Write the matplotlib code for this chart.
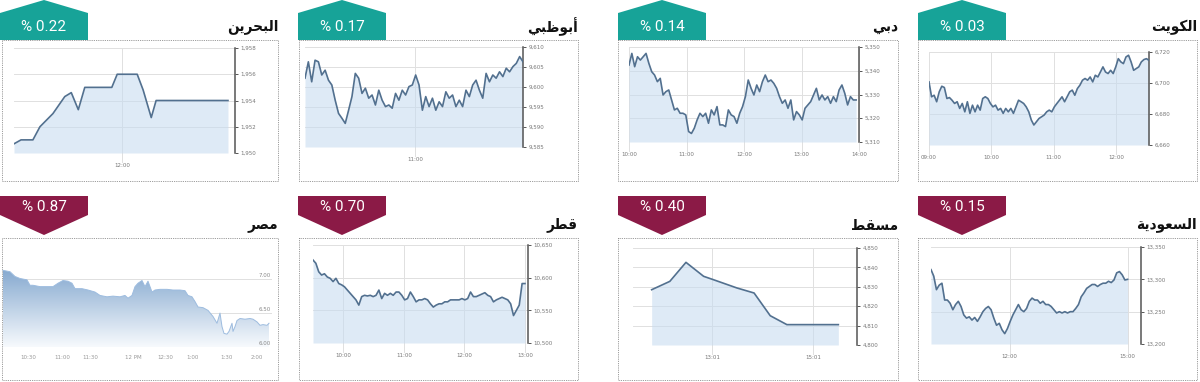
import numpy as np
import matplotlib
matplotlib.use('Agg')
import matplotlib.pyplot as plt
from matplotlib.patches import Polygon, Rectangle
from matplotlib.colors import LinearSegmentedColormap


# Data
# --------------
markets = ['البحرين', 'أبوظبي', 'دبي', 'الكويت', 'مصر', 'قطر', 'مسقط', 'السعودية']
changes = [0.22, 0.17, 0.14, 0.03, 0.87, 0.70, 0.40, 0.15]
rising = [True, True, True, True, False, False, False, False]

bahrain_t = [10.0, 10.13, 10.35, 10.48, 10.72, 10.94, 11.06, 11.19, 11.31, 11.81, 11.91, 12.28, 12.39, 12.54, 12.63, 13.96]
bahrain_v = [1950.7, 1951.0, 1951.0, 1952.0, 1953.0, 1954.3, 1954.6, 1953.3, 1955.0, 1955.0, 1956.0, 1956.0, 1954.8, 1952.7, 1954.0, 1954.0]

abudhabi_v = [9602.2, 9606.3, 9601.3, 9606.7, 9606.3, 9603.0, 9604.2, 9601.7, 9600.5, 9596.7, 9593.4, 9592.2, 9590.9,
              9594.2, 9597.6, 9603.4, 9602.2, 9598.4, 9599.7, 9597.2, 9598.0, 9595.5, 9599.2, 9596.7, 9595.1, 9595.5,
              9594.7, 9598.4, 9596.7, 9599.2, 9598.0, 9600.1, 9600.5, 9603.0, 9600.5, 9594.2, 9597.6, 9595.1, 9597.2,
              9594.2, 9596.3, 9595.1, 9598.8, 9597.2, 9598.0, 9595.1, 9596.7, 9595.1, 9599.2, 9597.6, 9600.5, 9601.7,
              9599.2, 9597.2, 9603.4, 9601.3, 9603.0, 9602.2, 9603.8, 9602.6, 9604.7, 9603.8, 9605.1, 9605.9, 9607.6, 9606.3]

dubai_v = [5342.4, 5347.3, 5341.7, 5345.9, 5344.5, 5345.9, 5347.3, 5343.1, 5339.6, 5338.2, 5335.4, 5336.8, 5329.8,
           5331.2, 5331.9, 5327.7, 5323.5, 5324.2, 5322.1, 5322.1, 5321.4, 5314.4, 5313.6, 5315.8, 5319.3, 5322.1,
           5320.7, 5322.1, 5317.9, 5323.5, 5321.4, 5324.9, 5317.2, 5317.2, 5316.5, 5323.5, 5321.4, 5320.7, 5317.9,
           5322.1, 5324.9, 5329.1, 5336.1, 5332.6, 5329.8, 5334.0, 5331.2, 5335.4, 5338.2, 5335.4, 5336.1, 5334.7,
           5332.6, 5329.1, 5326.3, 5327.7, 5324.2, 5327.7, 5319.3, 5322.8, 5321.4, 5319.3, 5324.2, 5325.6, 5327.0,
           5329.8, 5332.6, 5327.7, 5329.8, 5327.7, 5329.1, 5326.3, 5329.1, 5327.0, 5331.9, 5334.0, 5330.5, 5325.6,
           5329.1, 5327.7, 5327.7]

kuwait_v = [6700.7, 6691.1, 6692.1, 6687.9, 6694.3, 6697.9, 6697.1, 6690.0, 6690.6, 6688.9, 6686.8, 6687.9, 6683.6,
            6686.8, 6681.4, 6687.9, 6680.4, 6685.7, 6681.4, 6685.7, 6682.5, 6690.0, 6691.1, 6690.0, 6686.8, 6684.6,
            6685.7, 6682.5, 6683.6, 6680.4, 6683.6, 6681.4, 6683.6, 6680.4, 6684.6, 6688.9, 6687.9, 6686.8, 6684.6,
            6681.4, 6676.1, 6672.9, 6675.0, 6677.1, 6678.2, 6679.3, 6681.4, 6682.5, 6681.4, 6684.6, 6686.8, 6688.9,
            6691.1, 6687.9, 6691.1, 6694.3, 6695.4, 6692.1, 6696.4, 6698.6, 6701.8, 6702.9, 6701.8, 6703.9, 6700.7,
            6705.0, 6703.9, 6707.1, 6710.4, 6707.1, 6706.1, 6708.2, 6706.1, 6710.4, 6715.7, 6713.6, 6712.5, 6716.8,
            6717.9, 6713.6, 6708.2, 6709.3, 6710.4, 6713.6, 6715.1, 6715.7, 6714.6]

egypt_t = [1, 8, 13, 18, 25, 28, 31, 38, 45, 51, 56, 61, 66, 70, 73, 80, 86, 93, 98, 105, 111, 118, 123, 126, 130,
           133, 136, 140, 143, 146, 150, 153, 158, 165, 171, 178, 183, 186, 190, 193, 196, 201, 206, 211, 215, 218,
           220, 222, 225, 227, 230, 231, 233, 235, 238, 243, 248, 251, 255, 258, 261, 265, 267]
egypt_v = [7.13, 7.11, 7.04, 7.01, 6.99, 6.91, 6.91, 6.89, 6.89, 6.89, 6.94, 6.98, 6.97, 6.94, 6.86, 6.86, 6.84,
           6.81, 6.76, 6.74, 6.75, 6.74, 6.76, 6.72, 6.76, 6.89, 6.94, 6.98, 6.89, 6.97, 6.81, 6.84, 6.85, 6.85,
           6.84, 6.84, 6.83, 6.76, 6.74, 6.67, 6.59, 6.58, 6.54, 6.45, 6.35, 6.50, 6.30, 6.20, 6.19, 6.23, 6.35,
           6.23, 6.30, 6.39, 6.42, 6.41, 6.42, 6.41, 6.37, 6.32, 6.33, 6.32, 6.35]
egypt_ticks = [26, 60, 88, 131, 163, 191, 225, 255]
egypt_tick_labels = ['10:30', '11:00', '11:30', '12 PM', '12:30', '1:00', '1:30', '2:00']

qatar_v = [10627, 10622, 10609, 10604, 10606, 10601, 10599, 10594, 10599, 10591, 10589, 10586, 10581, 10576, 10571,
           10566, 10558, 10571, 10573, 10572, 10573, 10571, 10573, 10581, 10568, 10576, 10573, 10576, 10573, 10578,
           10578, 10573, 10566, 10568, 10578, 10571, 10563, 10566, 10566, 10568, 10566, 10560, 10555, 10558, 10560,
           10560, 10563, 10563, 10566, 10566, 10566, 10566, 10568, 10566, 10568, 10578, 10571, 10571, 10573, 10575,
           10577, 10573, 10571, 10563, 10566, 10568, 10570, 10568, 10566, 10560, 10542, 10550, 10558, 10591, 10591]

muscat_t = [11.82, 12.18, 12.5, 12.85, 13.04, 13.51, 13.85, 14.17, 14.5, 15.52]
muscat_v = [4828.5, 4832.8, 4842.6, 4835.4, 4833.7, 4829.4, 4826.8, 4815.1, 4810.5, 4810.5]

saudi_v = [13315, 13305, 13284, 13291, 13294, 13268, 13268, 13263, 13253, 13261, 13266, 13258, 13245, 13240, 13242,
           13237, 13241, 13235, 13242, 13250, 13255, 13258, 13253, 13240, 13229, 13232, 13222, 13216, 13224, 13235,
           13245, 13253, 13261, 13253, 13250, 13255, 13266, 13271, 13268, 13268, 13263, 13266, 13261, 13261, 13258,
           13253, 13248, 13250, 13248, 13250, 13248, 13250, 13250, 13255, 13261, 13273, 13279, 13286, 13289, 13292,
           13292, 13289, 13292, 13294, 13294, 13297, 13295, 13299, 13310, 13312, 13307, 13299, 13300]


# Arabic shaping (no reshaper available): presentation forms, visual order
# --------------
FORMS = {
    'ا': ('\ufe8d', '\ufe8e', None, None),
    'أ': ('\ufe83', '\ufe84', None, None),
    'ب': ('\ufe8f', '\ufe90', '\ufe91', '\ufe92'),
    'ت': ('\ufe95', '\ufe96', '\ufe97', '\ufe98'),
    'ة': ('\ufe93', '\ufe94', None, None),
    'ح': ('\ufea1', '\ufea2', '\ufea3', '\ufea4'),
    'د': ('\ufea9', '\ufeaa', None, None),
    'ر': ('\ufead', '\ufeae', None, None),
    'س': ('\ufeb1', '\ufeb2', '\ufeb3', '\ufeb4'),
    'ص': ('\ufeb9', '\ufeba', '\ufebb', '\ufebc'),
    'ط': ('\ufec1', '\ufec2', '\ufec3', '\ufec4'),
    'ظ': ('\ufec5', '\ufec6', '\ufec7', '\ufec8'),
    'ع': ('\ufec9', '\ufeca', '\ufecb', '\ufecc'),
    'ق': ('\ufed5', '\ufed6', '\ufed7', '\ufed8'),
    'ك': ('\ufed9', '\ufeda', '\ufedb', '\ufedc'),
    'ل': ('\ufedd', '\ufede', '\ufedf', '\ufee0'),
    'م': ('\ufee1', '\ufee2', '\ufee3', '\ufee4'),
    'ن': ('\ufee5', '\ufee6', '\ufee7', '\ufee8'),
    'و': ('\ufeed', '\ufeee', None, None),
    'ي': ('\ufef1', '\ufef2', '\ufef3', '\ufef4'),
}


def shape_ar(word):
    out = []
    for i, ch in enumerate(word):
        iso, fin, ini, med = FORMS[ch]
        prev_joins = i > 0 and FORMS[word[i - 1]][2] is not None
        next_joins = i < len(word) - 1 and ini is not None
        if prev_joins and next_joins:
            out.append(med)
        elif prev_joins:
            out.append(fin)
        elif next_joins:
            out.append(ini)
        else:
            out.append(iso)
    return ''.join(reversed(out))


# Figure and pixel-space background axes
# --------------
W, H = 1200, 382
fig = plt.figure(figsize=(12, 3.82), dpi=100)
bg = fig.add_axes([0, 0, 1, 1])
bg.set_xlim(0, W)
bg.set_ylim(H, 0)
bg.axis('off')

TEAL = '#17a398'
MAROON = '#8b1a46'
LINE = '#52708f'
FILL = '#c8dcf0'

box_left = [2, 299, 618, 918]
box_right = [278, 578, 898, 1197]
badge_left = [0, 298, 618, 918]
row_box = [(40, 181), (238, 380)]
title_y = [27, 225]

for k, name in enumerate(markets):
    row, col = divmod(k, 4)
    top, bot = row_box[row]
    l, r = box_left[col], box_right[col]
    bg.add_patch(Rectangle((l, top), r - l, bot - top, fill=False, ec='#7a7a7a', lw=0.6, ls=(0, (1, 1.2))))
    bl = badge_left[col]
    if rising[k]:
        pts = [(bl, 40), (bl, 13), (bl + 44, 0), (bl + 88, 13), (bl + 88, 40)]
        ty = 27
        colr = TEAL
    else:
        pts = [(bl, 196), (bl + 88, 196), (bl + 88, 215), (bl + 44, 235), (bl, 215)]
        ty = 207
        colr = MAROON
    bg.add_patch(Polygon(pts, closed=True, fc=colr, ec='none'))
    bg.text(bl + 44, ty, '% {:.2f}'.format(changes[k]), color='white', fontsize=11,
            ha='center', va='center', family='Roboto')
    bg.text(r, title_y[row], shape_ar(name), ha='right', va='center', fontsize=11,
            fontweight='bold', family=['DejaVu Sans'], fontstretch='condensed', color='#111111')


def px_axes(l, t, r, b):
    return fig.add_axes([l / W, 1 - b / H, (r - l) / W, (b - t) / H])


def line_panel(rect, t, v, xlim, yticks, xticks, xlabels):
    ax = px_axes(*rect)
    ax.set_facecolor('none')
    ylo, yhi = yticks[0], yticks[-1]
    ax.fill_between(t, v, ylo, color=FILL, alpha=0.6, lw=0, zorder=2)
    ax.plot(t, v, color=LINE, lw=1.2, zorder=3)
    ax.set_xlim(*xlim)
    ax.set_ylim(ylo, yhi)
    ax.set_yticks(yticks)
    ax.set_yticklabels(['{:,}'.format(y) for y in yticks])
    ax.yaxis.tick_right()
    for s in ['left', 'top', 'bottom']:
        ax.spines[s].set_visible(False)
    ax.spines['right'].set_color('#555555')
    ax.spines['right'].set_linewidth(1.1)
    ax.tick_params(axis='y', direction='out', length=2.5, width=0.7, color='#555555',
                   labelsize=4, labelcolor='#777777', pad=1.5)
    ax.set_xticks(xticks)
    ax.set_xticklabels(xlabels)
    ax.tick_params(axis='x', length=0, labelsize=4, labelcolor='#777777', pad=7)
    ax.grid(axis='y', color='#e0e0e0', lw=0.7, zorder=1)
    ax.set_axisbelow(True)
    hpx = rect[3] - rect[1]
    for x in xticks:
        ax.axvline(x, ymin=-9.0 / hpx, ymax=1, color='#e0e0e0', lw=0.7, zorder=1, clip_on=False)
    return ax


# Top row
line_panel((14, 48, 235, 153), bahrain_t, bahrain_v, (10, 14.09),
           [1950, 1952, 1954, 1956, 1958], [12], ['12:00'])
line_panel((305, 47, 523, 147), np.linspace(10, 11.98, len(abudhabi_v)), abudhabi_v, (10, 11.98),
           [9585, 9590, 9595, 9600, 9605, 9610], [11], ['11:00'])
line_panel((629, 47, 859, 142), np.linspace(10, 13.95, len(dubai_v)), dubai_v, (10, 14),
           [5310, 5320, 5330, 5340, 5350], [10, 11, 12, 13, 14], ['10:00', '11:00', '12:00', '13:00', '14:00'])
line_panel((929, 52, 1149, 145), np.linspace(9, 12.53, len(kuwait_v)), kuwait_v, (9, 12.53),
           [6660, 6680, 6700, 6720], [9, 10, 11, 12], ['09:00', '10:00', '11:00', '12:00'])

# Bottom row
line_panel((313, 245, 528, 343), np.linspace(9.5, 13.0, len(qatar_v)), qatar_v, (9.5, 13.05),
           [10500, 10550, 10600, 10650], [10, 11, 12, 13], ['10:00', '11:00', '12:00', '13:00'])
line_panel((633, 248, 857, 345), muscat_t, muscat_v, (11.45, 15.89),
           [4800, 4810, 4820, 4830, 4840, 4850], [13.017, 15.017], ['13:01', '15:01'])
line_panel((931, 247, 1141, 344), np.linspace(10, 15, len(saudi_v)), saudi_v, (10, 15.34),
           [13200, 13250, 13300, 13350], [12, 15], ['12:00', '15:00'])

# Egypt: gradient area, labels inside the plot
ax = px_axes(2, 250, 272, 347)
ax.set_facecolor('none')
poly = ax.fill_between(egypt_t, egypt_v, 6.0, color='none', lw=0)
cmap = LinearSegmentedColormap.from_list('eg', ['#f7fafd', '#84a8cf'])
grad = ax.imshow(np.linspace(0, 1, 200).reshape(-1, 1), cmap=cmap, origin='lower',
                 extent=[0, 270, 6.0, 7.15], aspect='auto', zorder=2)
grad.set_clip_path(poly.get_paths()[0], transform=ax.transData)
ax.plot(egypt_t, egypt_v, color='#9dbcdf', lw=0.7, zorder=3)
ax.set_xlim(0, 270)
ax.set_ylim(6.0, 7.43)
for s in ax.spines.values():
    s.set_visible(False)
ax.set_yticks([])
for y, lab in zip([6.0, 6.5, 7.0], ['6.00', '6.50', '7.00']):
    ax.axhline(y, color='#e0e0e0', lw=0.7, zorder=1)
    ax.text(0.995, y + 0.02, lab, transform=ax.get_yaxis_transform(), ha='right', va='bottom',
            fontsize=4, color='#888888', zorder=4)
ax.set_xticks(egypt_ticks)
ax.set_xticklabels(egypt_tick_labels)
ax.tick_params(axis='x', length=0, labelsize=4, labelcolor='#999999', pad=6)

fig.savefig('out.png', dpi=100, facecolor='white')
